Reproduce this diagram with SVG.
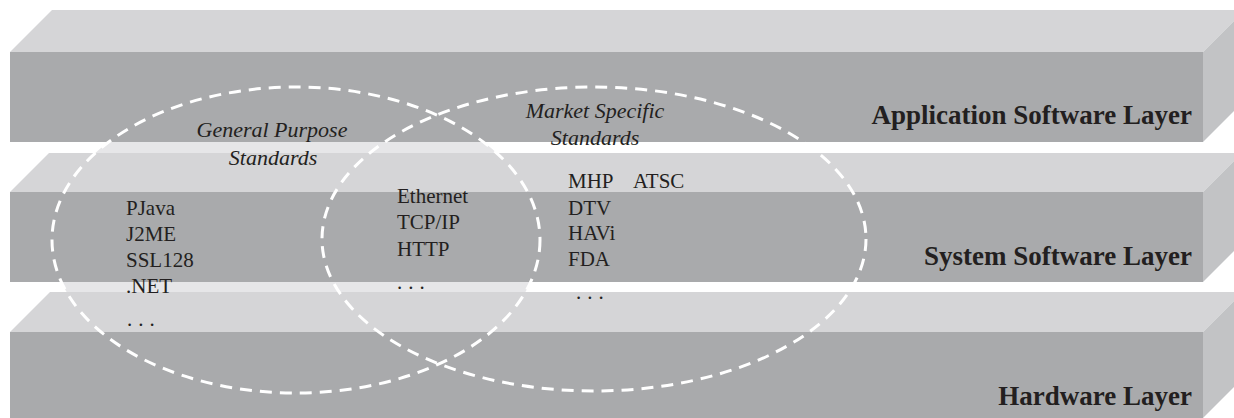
<svg xmlns="http://www.w3.org/2000/svg" width="1234" height="418" viewBox="0 0 1234 418">
<defs>
<style>
.top{fill:#d5d5d7}
.front{fill:#a9aaac}
.side{fill:#c2c3c5}
.ring{fill:none;stroke:#ffffff;stroke-width:3;stroke-dasharray:12 8}
.lbl{font-family:"Liberation Serif",serif;font-weight:bold;font-size:27px;fill:#231f20;text-anchor:end}
.it{font-family:"Liberation Serif",serif;font-style:italic;font-size:22px;fill:#231f20;text-anchor:middle}
.item{font-family:"Liberation Serif",serif;font-size:21px;fill:#231f20}
.dots{font-family:"Liberation Serif",serif;font-size:21px;fill:#231f20;letter-spacing:6px}
</style>
</defs>
<rect width="1234" height="418" fill="#ffffff"/>
<g id="general-purpose-fill">
<ellipse cx="296" cy="240" rx="244" ry="153" fill="#e6e6e8"/>
</g>
<g id="application-layer">
<polygon class="top" points="10,52 52,10 1245,10 1203,52"/>
<rect class="front" x="10" y="52" width="1193" height="90"/>
<polygon class="side" points="1203,52 1245,10 1245,100 1203,142"/>
<text class="lbl" x="1192" y="124">Application Software Layer</text>
</g>
<g id="system-layer">
<polygon class="top" points="10,192 49,153 1242,153 1203,192"/>
<rect class="front" x="10" y="192" width="1193" height="90"/>
<polygon class="side" points="1203,192 1242,153 1242,243 1203,282"/>
<text class="lbl" x="1192" y="265">System Software Layer</text>
</g>
<g id="hardware-layer">
<polygon class="top" points="10,332 50,292 1243,292 1203,332"/>
<rect class="front" x="10" y="332" width="1193" height="86"/>
<polygon class="side" points="1203,332 1243,292 1243,418 1203,418"/>
<polygon points="1203,418 1234,387 1234,418" fill="#ffffff"/>
<text class="lbl" x="1192" y="405">Hardware Layer</text>
</g>
<g id="general-purpose">
<ellipse class="ring" cx="296" cy="240" rx="244" ry="153"/>
<text class="it" x="272" y="137">General Purpose</text>
<text class="it" x="273" y="165">Standards</text>
<text class="item" x="126" y="215">PJava</text>
<text class="item" x="126" y="241">J2ME</text>
<text class="item" x="126" y="267">SSL128</text>
<text class="item" x="126" y="293">.NET</text>
<text class="dots" x="127" y="326">...</text>
</g>
<g id="market-specific">
<ellipse class="ring" cx="594" cy="239" rx="272" ry="152"/>
<text class="it" x="595" y="118">Market Specific</text>
<text class="it" x="595" y="145">Standards</text>
<text class="item" x="568" y="188">MHP</text>
<text class="item" x="633" y="188">ATSC</text>
<text class="item" x="568" y="215">DTV</text>
<text class="item" x="568" y="240">HAVi</text>
<text class="item" x="568" y="266">FDA</text>
<text class="dots" x="576" y="299">...</text>
</g>
<g id="shared">
<text class="item" x="397" y="203">Ethernet</text>
<text class="item" x="397" y="229">TCP/IP</text>
<text class="item" x="397" y="256">HTTP</text>
<text class="dots" x="397" y="289">...</text>
</g>
<g id="connectors"/>
</svg>
